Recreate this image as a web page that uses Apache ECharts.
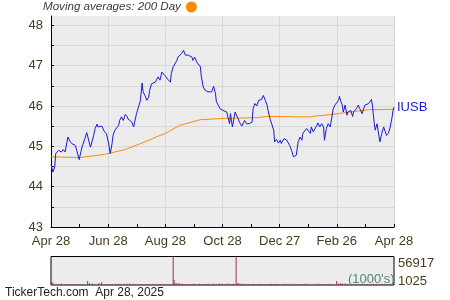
<!DOCTYPE html>
<html>
<head>
<meta charset="utf-8">
<style>html,body{margin:0;padding:0;background:#fff;}#c{width:450px;height:300px;}</style>
<script src="https://cdn.jsdelivr.net/npm/echarts@6/dist/echarts.min.js"></script>
</head>
<body>
<div id="c"></div>
<script>
// x values are day offsets from Apr 28, 2024
var xTickLabels = ['Apr 28','Jun 28','Aug 28','Oct 28','Dec 27','Feb 26','Apr 28'];
var yTickValues = [43,43.5,44,44.5,45,45.5,46,46.5,47,47.5,48];
var volTickValues = [1025, 56917];
var tickerName = 'IUSB';
var maName = 'Moving averages: 200 Day';

var priceSeries = [[0,44.55],[2,44.36],[4,44.49],[5,44.82],[8,44.90],[10,44.92],[11,44.86],[13,44.92],[15,44.86],[18,45.23],[20,45.13],[22,45.07],[24,45.11],[26,45.02],[27,44.98],[30,44.67],[31,44.78],[33,44.98],[34,45.05],[36,45.19],[38,45.34],[40,45.31],[42,44.98],[43,44.94],[45,45.23],[47,45.44],[49,45.55],[50,45.48],[52,45.52],[54,45.50],[56,45.50],[57,45.36],[59,45.31],[61,45.11],[63,44.82],[65,45.07],[66,45.27],[68,45.40],[70,45.36],[72,45.52],[73,45.64],[75,45.73],[77,45.64],[79,45.79],[81,45.74],[82,45.68],[84,45.64],[86,45.60],[88,45.48],[89,45.60],[91,45.81],[93,45.97],[95,46.12],[97,46.57],[98,46.35],[100,46.26],[102,46.14],[104,46.22],[105,46.39],[107,46.55],[109,46.51],[111,46.59],[112,46.57],[114,46.72],[116,46.64],[118,46.84],[119,46.82],[121,46.76],[123,46.80],[125,46.64],[127,46.59],[128,46.80],[130,46.97],[132,47.01],[134,47.13],[135,47.21],[137,47.17],[139,47.30],[141,47.38],[143,47.26],[144,47.23],[146,47.26],[148,47.23],[150,47.21],[151,47.13],[153,47.21],[155,47.09],[157,47.05],[159,46.97],[160,46.72],[162,46.47],[164,46.39],[166,46.35],[167,46.35],[169,46.31],[171,46.35],[173,46.49],[175,46.31],[176,46.10],[178,46.02],[180,45.93],[182,45.95],[183,45.89],[185,45.87],[187,45.85],[189,45.81],[190,45.56],[191,45.81],[193,45.48],[196,45.85],[198,45.81],[199,45.69],[201,45.58],[203,45.50],[205,45.50],[206,45.64],[208,45.56],[211,45.56],[214,45.60],[215,45.93],[217,46.06],[219,46.00],[221,46.14],[222,46.10],[224,46.16],[226,46.26],[228,46.14],[230,46.02],[231,45.89],[233,45.69],[235,45.65],[237,45.40],[238,45.11],[240,45.17],[242,45.08],[244,45.15],[245,45.07],[248,45.19],[251,45.15],[253,45.11],[254,45.02],[256,44.90],[258,44.74],[260,44.70],[261,44.78],[263,45.11],[265,45.23],[267,45.15],[268,45.32],[270,45.28],[272,45.44],[274,45.40],[276,45.32],[277,45.48],[279,45.36],[281,45.40],[283,45.52],[284,45.58],[286,45.48],[288,45.56],[290,45.48],[291,45.15],[293,45.44],[295,45.56],[297,45.48],[299,45.73],[300,45.90],[302,46.02],[304,46.06],[306,46.14],[307,46.24],[308,46.14],[310,46.02],[311,45.85],[313,46.02],[315,45.77],[316,45.85],[318,45.81],[319,45.89],[321,45.74],[322,45.85],[325,45.93],[327,46.02],[329,46.00],[331,45.81],[332,45.85],[334,46.02],[336,46.00],[338,46.06],[339,46.02],[341,46.16],[342,46.02],[344,45.56],[345,45.40],[347,45.56],[348,45.40],[350,45.11],[352,45.32],[354,45.48],[355,45.52],[357,45.27],[359,45.32],[361,45.48],[363,45.73],[364,45.89],[365,45.97]];

var maSeries = [[0,44.74],[30,44.72],[57,44.80],[79,44.92],[100,45.11],[116,45.27],[121,45.31],[137,45.52],[159,45.66],[183,45.69],[219,45.71],[230,45.74],[244,45.74],[260,45.73],[276,45.73],[281,45.75],[299,45.79],[318,45.85],[339,45.91],[350,45.91],[365,45.92]];

var volumeSeries = [[0,5200],[2,4800],[5,1500],[8,1200],[11,2600],[14,1100],[17,1300],[20,1800],[23,1000],[26,1400],[29,1200],[32,1600],[35,1100],[39,8200],[41,3600],[44,3200],[47,1200],[51,3800],[54,6200],[57,1500],[60,1100],[63,1300],[66,1200],[69,2400],[72,2600],[75,2200],[78,2500],[81,2300],[84,2800],[87,2400],[90,1200],[93,1000],[96,2200],[99,1400],[102,2000],[105,2100],[108,1300],[111,1800],[114,1000],[117,2000],[120,1200],[123,1900],[126,2100],[130,56917],[131,10200],[133,3800],[135,3200],[137,3600],[140,2300],[143,2000],[146,2200],[149,1500],[152,2400],[155,1800],[158,2600],[161,2200],[164,1900],[167,2500],[170,2000],[173,2600],[176,2200],[179,3000],[182,2400],[185,2000],[188,2800],[191,2200],[194,2400],[197,56500],[199,3800],[201,3000],[204,2400],[207,2200],[210,2000],[213,2100],[216,2300],[219,2000],[222,2400],[225,2100],[228,2200],[231,2000],[234,2300],[237,2200],[240,2400],[243,2000],[246,2100],[249,2300],[252,2000],[255,2200],[258,2400],[261,2100],[264,2000],[267,2200],[270,2300],[273,2000],[276,1200],[279,1000],[282,2200],[285,2300],[288,2100],[291,2200],[294,2000],[297,2300],[300,2100],[304,8200],[306,2400],[308,3400],[310,3000],[313,3200],[316,2200],[319,2400],[322,2000],[325,2200],[328,2100],[331,2300],[334,2000],[337,2200],[340,2100],[343,2300],[346,2400],[349,2200],[352,2300],[355,2500],[358,2200],[361,2400],[364,2600]];

var FONT = "'Liberation Sans', Arial, sans-serif";
var LABEL_COLOR = '#4a3b1b';
var step = 365 / 6;

var chart = echarts.init(document.getElementById('c'), null, {renderer: 'canvas'});
chart.setOption({
  animation: false,
  textStyle: {fontFamily: FONT},
  title: [
    {text: "TickerTech.com  Apr 28, 2025", left: 5, top: 287, padding: 0,
     textStyle: {fontSize: 12, fontWeight: 'normal', color: '#222', fontFamily: FONT}},
    {text: "(1000's)", left: 348, top: 273, padding: 0,
     textStyle: {fontSize: 13, fontWeight: 'normal', color: '#4f8a68', fontFamily: FONT}}
  ],
  legend: {
    data: [maName], left: 43, top: 1, padding: 0, align: 'right',
    icon: 'circle', itemWidth: 11, itemHeight: 11, itemGap: 4,
    textStyle: {fontSize: 11.6, fontStyle: 'italic', color: '#3a3a3a', fontFamily: FONT}
  },
  grid: [
    {left: 51, right: 56, top: 16, height: 211, show: true, backgroundColor: '#ececec', borderWidth: 0},
    {left: 51, right: 56, top: 256.5, height: 28.5, show: true, backgroundColor: '#ececec', borderColor: '#000', borderWidth: 1}
  ],
  xAxis: [
    {type: 'value', gridIndex: 0, min: 0, max: 365, interval: step,
     axisLine: {show: true, lineStyle: {color: '#000', width: 1}},
     axisTick: {show: true, inside: true, length: 3, lineStyle: {color: '#000'}},
     minorTick: {show: true, splitNumber: 2, length: 3, lineStyle: {color: '#000'}},
     splitLine: {show: true, lineStyle: {color: '#d8d8d8', width: 1}},
     axisLabel: {margin: 8, fontSize: 13, color: LABEL_COLOR, fontFamily: FONT,
       showMinLabel: true, showMaxLabel: true,
       formatter: function (v) { var i = Math.round(v / step); return xTickLabels[i] || ''; }}},
    {type: 'value', gridIndex: 1, min: 0, max: 365, show: false}
  ],
  yAxis: [
    {type: 'value', gridIndex: 0, min: 43, max: 48.23, interval: 1,
     axisLine: {show: true, lineStyle: {color: '#000', width: 1}},
     axisTick: {show: true, inside: true, length: 3, lineStyle: {color: '#000'}, customValues: yTickValues},
     splitLine: {show: true, lineStyle: {color: '#d8d8d8', width: 1}},
     axisLabel: {margin: 8, fontSize: 13, color: LABEL_COLOR, fontFamily: FONT,
       customValues: yTickValues.filter(function (v) { return v % 1 === 0; }),
       formatter: function (v) { return (v % 1 === 0) ? String(v) : ''; }}},
    {type: 'value', gridIndex: 1, min: 0, max: 56917, position: 'right',
     axisLine: {show: false}, axisTick: {show: false}, splitLine: {show: false},
     axisLabel: {margin: 4, fontSize: 13, color: LABEL_COLOR, fontFamily: FONT,
       customValues: volTickValues,
       formatter: function (v) { return v === volTickValues[1] ? '{t|' + v + '}' : '{b|' + v + '}'; },
       rich: {t: {fontSize: 13, color: LABEL_COLOR, padding: [13, 0, 0, 0]},
              b: {fontSize: 13, color: LABEL_COLOR, padding: [0, 0, 6, 0]}}}}
  ],
  series: [
    {name: maName, type: 'line', xAxisIndex: 0, yAxisIndex: 0, data: maSeries,
     showSymbol: false, symbol: 'none', lineStyle: {color: '#ff8c00', width: 1}, itemStyle: {color: '#ff8c00'}, z: 2},
    {name: tickerName, type: 'line', xAxisIndex: 0, yAxisIndex: 0, data: priceSeries,
     showSymbol: false, symbol: 'none', lineStyle: {color: '#1a1ad8', width: 1}, itemStyle: {color: '#1a1ad8'}, z: 3,
     endLabel: {show: true, formatter: tickerName, color: '#1a1ad8', fontSize: 13, fontFamily: FONT, distance: 3}},
    {name: 'Volume', type: 'bar', xAxisIndex: 1, yAxisIndex: 1, data: volumeSeries,
     barWidth: 1, itemStyle: {color: '#9b2f63'}, large: false}
  ]
});
</script>
</body>
</html>
